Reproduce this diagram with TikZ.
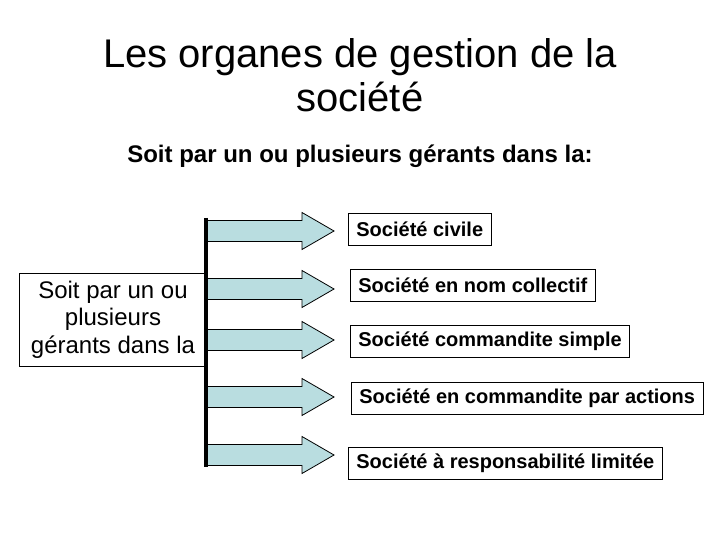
\documentclass[tikz,border=0pt]{standalone}
\usepackage{fontspec}
\setmainfont{Liberation Sans}
\definecolor{arrowblue}{RGB}{185,221,224}

\begin{document}
\begin{tikzpicture}[x=1pt,y=-1pt,
    box/.style={draw=black,fill=white,line width=0.8pt,anchor=west,
        inner xsep=8pt,minimum height=32pt,font=\fontsize{20}{24}\selectfont\bfseries},
    fatarrow/.style={draw=black,fill=arrowblue,line width=0.8pt}]
        \fill[white] (0,0) rectangle (720,540);
        \useasboundingbox (0,0) rectangle (720,540);

        % titles
        \node[align=center,font=\fontsize{40}{44}\selectfont] (title) at (360,75) {Les organes de gestion de la\\soci\'et\'e};
        \node[anchor=base,font=\fontsize{24}{28}\selectfont\bfseries] (sub) at (360,163) {Soit par un ou plusieurs g\'erants dans la:};

        % left box and bar
        \node[draw=black,line width=0.8pt,minimum width=188pt,minimum height=93pt,align=center,
            font=\fontsize{24}{27.5}\selectfont] (gerants) at (113,319.5) {Soit par un ou\\plusieurs\\g\'erants dans la};
        \coordinate (bartop) at (206,218);
        \coordinate (barbot) at (206,467);

        % arrows
        \foreach \y in {231,289,340,397,455}
            \draw[fatarrow] (206,\y-10.5) -- (302,\y-10.5) -- (302,\y-18.5) -- (334,\y)
                -- (302,\y+18.5) -- (302,\y+10.5) -- (206,\y+10.5);
        \draw[line width=4pt] (bartop) -- (barbot);

        % forms of company
        \node[box] (civile) at (348,229) {Soci\'et\'e civile};
        \node[box] (nom) at (350,285.5) {Soci\'et\'e en nom collectif};
        \node[box] (simple) at (350,341) {Soci\'et\'e commandite simple};
        \node[box] (actions) at (351,398.5) {Soci\'et\'e en commandite par actions};
        \node[box] (sarl) at (348,463.5) {Soci\'et\'e \`a responsabilit\'e limit\'ee};
    \end{tikzpicture}
\end{document}
